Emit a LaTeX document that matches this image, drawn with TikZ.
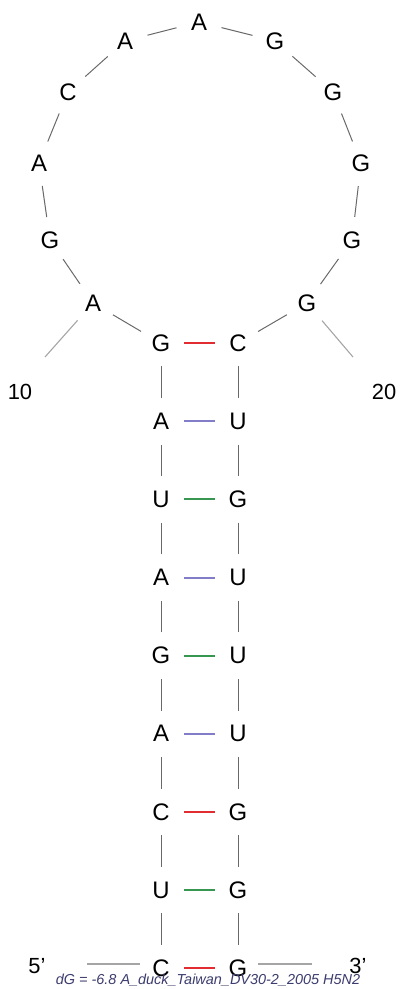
\documentclass[tikz,border=0pt]{standalone}
\usepackage{fontspec}
\setmainfont{Liberation Sans}
\usepackage{tikz}
\usetikzlibrary{positioning, calc}
\definecolor{backbone}{RGB}{105, 105, 105}
\definecolor{tickgray}{RGB}{165, 165, 165}
\definecolor{gcred}{RGB}{225, 45, 50}
\definecolor{aublue}{RGB}{130, 125, 200}
\definecolor{gugreen}{RGB}{55, 150, 80}
\definecolor{captionblue}{RGB}{60, 60, 110}
\tikzset{
  base/.style={circle, minimum size=46bp, inner sep=0pt, font=\fontsize{24}{24}\selectfont},
  bb/.style={color=backbone, line width=1pt},
  tickline/.style={color=tickgray, line width=1.1pt},
  gcpair/.style={color=gcred, line width=2bp},
  aupair/.style={color=aublue, line width=2bp},
  gupair/.style={color=gugreen, line width=2bp},
  numlabel/.style={font=\fontsize{22}{22}\selectfont},
}

\begin{document}
\begin{tikzpicture}[x=1bp, y=-1bp]
  \useasboundingbox (0,0) rectangle (402,989);
  % stem, 5' side and 3' side
  \foreach \i/\l/\r in {1/C/G, 2/U/G, 3/C/G, 4/A/U, 5/G/U, 6/A/U, 7/U/G, 8/A/U, 9/G/C} {
    \pgfmathtruncatemacro{\j}{30-\i}
    \node[base] (n\i) at (161, {968-78.1*(\i-1)}) {\l};
    \node[base] (n\j) at (238, {968-78.1*(\i-1)}) {\r};
  }
  % hairpin loop
  \node[base] (n10) at (93,303) {A};
  \node[base] (n11) at (50,240) {G};
  \node[base] (n12) at (39,163) {A};
  \node[base] (n13) at (68,92) {C};
  \node[base] (n14) at (125,41) {A};
  \node[base] (n15) at (199,22) {A};
  \node[base] (n16) at (275,41) {G};
  \node[base] (n17) at (333,92) {G};
  \node[base] (n18) at (361,163) {G};
  \node[base] (n19) at (352,240) {G};
  \node[base] (n20) at (307,303) {G};
  % backbone
  \foreach \i in {1,...,28} {
    \pgfmathtruncatemacro{\k}{\i+1}
    \draw[bb] (n\i) -- (n\k);
  }
  % base pairs
  \draw[gcpair] (n9) -- (n21);
  \draw[aupair] (n8) -- (n22);
  \draw[gupair] (n7) -- (n23);
  \draw[aupair] (n6) -- (n24);
  \draw[gupair] (n5) -- (n25);
  \draw[aupair] (n4) -- (n26);
  \draw[gcpair] (n3) -- (n27);
  \draw[gupair] (n2) -- (n28);
  \draw[gcpair] (n1) -- (n29);
  % numbering
  \coordinate (t10) at (45,357);
  \coordinate (t20) at (353,357);
  \draw[tickline] (n10) -- (t10);
  \draw[tickline] (n20) -- (t20);
  \node[numlabel] (lab10) at (20,392) {10};
  \node[numlabel] (lab20) at (384,392) {20};
  % ends
  \node[numlabel] (five) at (37,966) {5’};
  \node[numlabel] (three) at (358,966) {3’};
  \coordinate (f1) at (87,964);
  \coordinate (f2) at (140,964);
  \coordinate (h1) at (258,964);
  \coordinate (h2) at (312,964);
  \draw[tickline] (f1) -- (f2);
  \draw[tickline] (h1) -- (h2);
  \node[font=\fontsize{14.5}{14.5}\selectfont\itshape, text=captionblue] (caption) at (208,980) {dG = -6.8 A\_duck\_Taiwan\_DV30-2\_2005 H5N2};
\end{tikzpicture}
\end{document}
